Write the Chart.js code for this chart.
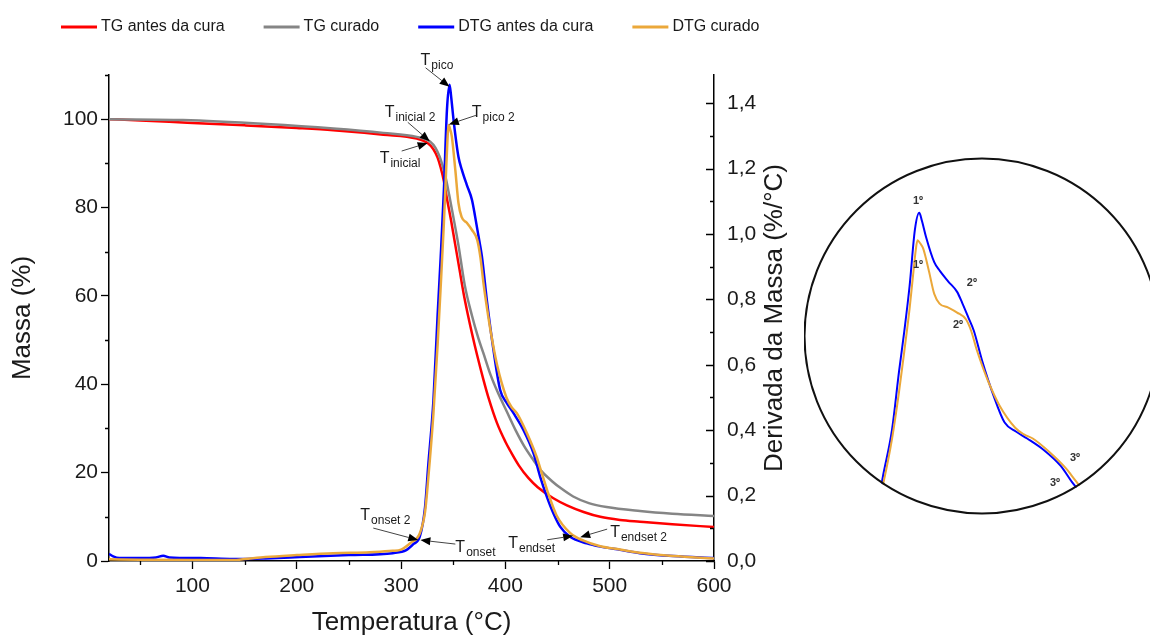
<!DOCTYPE html>
<html>
<head>
<meta charset="utf-8">
<script src="https://cdn.jsdelivr.net/npm/chart.js@4.4.1/dist/chart.umd.min.js"></script>
<style>
  html, body { margin: 0; padding: 0; background: #fff; overflow: hidden; width: 1150px; height: 637px; }
  #main { position: absolute; left: 0; top: 0; }
  #zoom { position: absolute; left: 804px; top: 157px; }
</style>
</head>
<body>
<canvas id="main" width="824" height="637"></canvas>
<canvas id="zoom" width="346" height="358"></canvas>
<script>
// TG (massa, %) antes da cura
const tgAntesTemp  = [20, 50, 95, 150, 200, 235, 283, 315, 326, 331, 335, 338, 341, 344, 348, 352, 356, 360, 364, 368, 373, 379, 384, 392, 400, 405, 413, 422, 431, 446, 459, 475, 491, 510, 529, 560, 600];
const tgAntesMassa = [100, 99.7, 99.2, 98.6, 98.0, 97.5, 96.5, 95.6, 94.5, 93.2, 91.3, 89, 86, 82, 77, 71.5, 66, 60.5, 55.8, 51.5, 46.5, 41, 36.8, 31.2, 27, 24.8, 21.6, 18.8, 16.7, 14.2, 12.6, 11.1, 10.0, 9.3, 8.9, 8.3, 7.7];

// TG (massa, %) curado
const tgCuradoTemp  = [20, 91, 171, 235, 283, 315, 328, 333, 337, 340, 343, 346, 350, 355, 361, 368, 374, 379, 386, 393, 401, 410, 418, 427, 434, 445, 453, 465, 480, 497, 529, 560, 600];
const tgCuradoMassa = [100, 99.8, 98.9, 97.9, 96.9, 96.0, 94.9, 93.5, 91.5, 89.3, 86.5, 83, 78, 71.5, 62.5, 55.5, 50.5, 47, 42, 38, 34, 29.5, 26, 22.8, 20.5, 18, 16.5, 14.6, 13.1, 12.2, 11.3, 10.7, 10.2];

// DTG (%/°C) antes da cura
const dtgAntesTemp  = [20, 24, 30, 50, 65, 72, 78, 108, 139, 170, 203, 250, 292, 305, 312, 318, 323, 326, 331, 335, 338, 341, 344, 346.5, 348, 350.3, 355, 358.3, 363, 368, 371, 374.3, 377.5, 382.3, 388.6, 395, 401.4, 407.8, 417.4, 427, 433.3, 439.7, 446, 452.5, 462, 478, 491, 510, 529, 561, 600];
const dtgAntesDeriv = [0.022, 0.014, 0.009, 0.009, 0.011, 0.016, 0.011, 0.009, 0.006, 0.008, 0.012, 0.018, 0.024, 0.033, 0.052, 0.075, 0.165, 0.29, 0.49, 0.75, 0.93, 1.13, 1.38, 1.456, 1.42, 1.349, 1.236, 1.196, 1.150, 1.104, 1.053, 0.992, 0.931, 0.795, 0.645, 0.523, 0.483, 0.452, 0.40, 0.329, 0.258, 0.197, 0.146, 0.105, 0.074, 0.054, 0.044, 0.034, 0.024, 0.015, 0.009];

// DTG (%/°C) curado
const dtgCuradoTemp  = [20, 50, 100, 139, 150, 170, 200, 235, 270, 292, 300, 309, 318, 323, 326, 331, 335, 338, 341, 343, 344.5, 345.5, 347, 348.7, 352, 355, 358, 363, 368, 373, 376, 379, 382.3, 386, 392, 401, 406, 411, 420.6, 430, 433.3, 440, 449, 462, 475, 491, 510, 529, 561, 600];
const dtgCuradoDeriv = [0.005, 0.004, 0.003, 0.003, 0.006, 0.012, 0.018, 0.024, 0.027, 0.031, 0.035, 0.055, 0.085, 0.15, 0.25, 0.45, 0.66, 0.84, 1.03, 1.18, 1.29, 1.333, 1.32, 1.297, 1.196, 1.095, 1.052, 1.034, 1.012, 0.982, 0.930, 0.850, 0.775, 0.70, 0.60, 0.50, 0.47, 0.452, 0.391, 0.318, 0.285, 0.217, 0.14, 0.086, 0.062, 0.045, 0.035, 0.025, 0.015, 0.008];

// Axis ticks
const tempTicks       = [100, 200, 300, 400, 500, 600];
const tempMinorTicks  = [50, 150, 250, 350, 450, 550];
const massaTicks      = [0, 20, 40, 60, 80, 100];
const massaMinorTicks = [10, 30, 50, 70, 90, 110];
const derivTicks      = [0, 0.2, 0.4, 0.6, 0.8, 1.0, 1.2, 1.4];
const derivMinorTicks = [0.1, 0.3, 0.5, 0.7, 0.9, 1.1, 1.3];

const FONT = '"Liberation Sans", Arial, sans-serif';
const INK = '#1a1a1a';
const COLORS = { red: '#ff0000', grey: '#858585', blue: '#0000ff', orange: '#eba83a' };

Chart.defaults.font.family = FONT;
Chart.defaults.color = INK;

const toPoints = (xs, ys) => xs.map((x, i) => ({ x, y: ys[i] }));

// Arrow annotations: tip in data units, tail and text offsets in px from the tip
const markers = [
  { sub: 'pico',      at: [346.5, 1.45],  axis: 'y1', tail: [-24, -19], text: [-29, -22] },
  { sub: 'pico 2',    at: [345.8, 1.335], axis: 'y1', tail: [27, -9],   text: [23, -7] },
  { sub: 'inicial 2', at: [327.5, 95.0],  axis: 'y',  tail: [-22, -19], text: [-45, -24] },
  { sub: 'inicial',   at: [325.5, 94.6],  axis: 'y',  tail: [-26, 8],   text: [-48, 20] },
  { sub: 'onset 2',   at: [316.5, 0.064], axis: 'y1', tail: [-45, -12], text: [-58, -20] },
  { sub: 'onset',     at: [318.5, 0.064], axis: 'y1', tail: [35, 4],    text: [35, 12] },
  { sub: 'endset',    at: [465.0, 0.077], axis: 'y1', tail: [-26, 4],   text: [-65, 12] },
  { sub: 'endset 2',  at: [471.7, 0.073], axis: 'y1', tail: [27, -8],   text: [30, 0] }
];

function arrow(ctx, x0, y0, x1, y1) {
  const ang = Math.atan2(y1 - y0, x1 - x0);
  const len = 10, half = 4;
  const bx = x1 - Math.cos(ang) * len, by = y1 - Math.sin(ang) * len;
  ctx.strokeStyle = '#444';
  ctx.lineWidth = 1;
  ctx.beginPath();
  ctx.moveTo(x0, y0);
  ctx.lineTo(bx, by);
  ctx.stroke();
  ctx.fillStyle = '#000';
  ctx.beginPath();
  ctx.moveTo(x1, y1);
  ctx.lineTo(bx + Math.sin(ang) * half, by - Math.cos(ang) * half);
  ctx.lineTo(bx - Math.sin(ang) * half, by + Math.cos(ang) * half);
  ctx.closePath();
  ctx.fill();
}

const decorations = {
  id: 'decorations',
  afterDraw(chart) {
    const { ctx, scales, chartArea } = chart;
    const { x, y, y1 } = scales;
    ctx.save();

    // minor ticks (outward) on bottom and left, all ticks inward on right
    ctx.strokeStyle = '#000';
    ctx.lineWidth = 1.3;
    ctx.beginPath();
    tempMinorTicks.forEach(v => {
      const px = Math.round(x.getPixelForValue(v)) + 0.5;
      ctx.moveTo(px, chartArea.bottom); ctx.lineTo(px, chartArea.bottom + 4);
    });
    massaMinorTicks.forEach(v => {
      const py = Math.round(y.getPixelForValue(v)) + 0.5;
      ctx.moveTo(chartArea.left - 4, py); ctx.lineTo(chartArea.left, py);
    });
    derivTicks.forEach(v => {
      const py = Math.round(y1.getPixelForValue(v)) + 0.5;
      ctx.moveTo(chartArea.right - 8, py); ctx.lineTo(chartArea.right, py);
    });
    derivMinorTicks.forEach(v => {
      const py = Math.round(y1.getPixelForValue(v)) + 0.5;
      ctx.moveTo(chartArea.right - 4, py); ctx.lineTo(chartArea.right, py);
    });
    ctx.stroke();

    // right axis title, reading bottom to top
    ctx.save();
    ctx.translate(775, (chartArea.top + chartArea.bottom) / 2);
    ctx.rotate(-Math.PI / 2);
    ctx.font = '26px ' + FONT;
    ctx.fillStyle = INK;
    ctx.textAlign = 'center';
    ctx.textBaseline = 'middle';
    ctx.fillText('Derivada da Massa (%/°C)', 0, 0);
    ctx.restore();

    // legend
    ctx.font = '16px ' + FONT;
    ctx.textBaseline = 'middle';
    ctx.textAlign = 'left';
    let lx = 61;
    const ly = 27;
    chart.data.datasets.forEach(ds => {
      ctx.strokeStyle = ds.borderColor;
      ctx.lineWidth = 3;
      ctx.beginPath();
      ctx.moveTo(lx, ly); ctx.lineTo(lx + 36, ly);
      ctx.stroke();
      ctx.fillStyle = INK;
      ctx.fillText(ds.label, lx + 40, ly);
      lx += 40 + ctx.measureText(ds.label).width + 39;
    });

    // T markers with arrows
    markers.forEach(m => {
      const tx = x.getPixelForValue(m.at[0]);
      const ty = scales[m.axis].getPixelForValue(m.at[1]);
      arrow(ctx, tx + m.tail[0], ty + m.tail[1], tx, ty);
      const bx = tx + m.text[0], by = ty + m.text[1];
      ctx.fillStyle = INK;
      ctx.textBaseline = 'alphabetic';
      ctx.font = '16px ' + FONT;
      ctx.fillText('T', bx, by);
      const w = ctx.measureText('T').width;
      ctx.font = '12px ' + FONT;
      ctx.fillText(m.sub, bx + w + 1, by + 4);
    });
    ctx.restore();
  }
};

const lineStyle = { borderWidth: 2.5, pointRadius: 0, cubicInterpolationMode: 'monotone', fill: false };

new Chart(document.getElementById('main'), {
  type: 'line',
  data: {
    datasets: [
      { ...lineStyle, label: 'TG antes da cura',  data: toPoints(tgAntesTemp, tgAntesMassa),   yAxisID: 'y',  borderColor: COLORS.red,    order: 3 },
      { ...lineStyle, label: 'TG curado',         data: toPoints(tgCuradoTemp, tgCuradoMassa), yAxisID: 'y',  borderColor: COLORS.grey,   order: 2 },
      { ...lineStyle, label: 'DTG antes da cura', data: toPoints(dtgAntesTemp, dtgAntesDeriv), yAxisID: 'y1', borderColor: COLORS.blue,   order: 1 },
      { ...lineStyle, label: 'DTG curado',        data: toPoints(dtgCuradoTemp, dtgCuradoDeriv), yAxisID: 'y1', borderColor: COLORS.orange, order: 0 }
    ]
  },
  options: {
    responsive: false,
    animation: false,
    layout: { padding: { top: 75, left: 0, right: 0, bottom: 0 } },
    plugins: { legend: { display: false }, tooltip: { enabled: false } },
    scales: {
      x: {
        type: 'linear', min: 20, max: 600,
        afterBuildTicks: s => { s.ticks = tempTicks.map(v => ({ value: v })); },
        afterFit: s => { s.height = 76; },
        ticks: { font: { size: 21 }, color: INK, padding: 5, maxRotation: 0, autoSkip: false },
        grid: { drawOnChartArea: false, drawTicks: true, tickLength: 8, tickColor: '#000', tickWidth: 1.3 },
        border: { display: true, color: '#000', width: 1.5 },
        title: { display: true, text: 'Temperatura (°C)', font: { size: 26 }, color: INK, padding: { top: 0, bottom: -1 } }
      },
      y: {
        position: 'left', min: 0, max: 110,
        afterBuildTicks: s => { s.ticks = massaTicks.map(v => ({ value: v })); },
        afterFit: s => { s.width = 109; },
        ticks: { font: { size: 21 }, color: INK, padding: 3 },
        grid: { drawOnChartArea: false, drawTicks: true, tickLength: 8, tickColor: '#000', tickWidth: 1.3 },
        border: { display: true, color: '#000', width: 1.5 },
        title: { display: true, text: 'Massa (%)', font: { size: 26 }, color: INK, padding: { top: 7, bottom: 0 } }
      },
      y1: {
        position: 'right', min: 0, max: 1.486,
        afterBuildTicks: s => { s.ticks = derivTicks.map(v => ({ value: v })); },
        afterFit: s => { s.width = 110; },
        ticks: { font: { size: 21 }, color: INK, padding: 13, callback: v => v.toFixed(1).replace('.', ',') },
        grid: { drawOnChartArea: false, drawTicks: false },
        border: { display: true, color: '#000', width: 1.5 }
      }
    }
  },
  plugins: [decorations]
});

// Detail view of the DTG peaks inside a circle
const zoomLabels = [
  { text: '1º', at: [345.8, 1.508] },
  { text: '1º', at: [345.8, 1.224] },
  { text: '2º', at: [376.4, 1.144] },
  { text: '2º', at: [368.5, 0.957] },
  { text: '3º', at: [435.0, 0.366] },
  { text: '3º', at: [423.6, 0.255] }
];
const circle = { cx: 178, cy: 179, r: 178.5 };

const circleClip = {
  id: 'circleClip',
  beforeDatasetsDraw(chart) {
    const ctx = chart.ctx;
    ctx.save();
    ctx.beginPath();
    ctx.arc(circle.cx, circle.cy, circle.r, 0, Math.PI * 2);
    ctx.clip();
  },
  afterDatasetsDraw(chart) {
    chart.ctx.restore();
  },
  afterDraw(chart) {
    const { ctx, scales: { x, y } } = chart;
    ctx.save();
    ctx.strokeStyle = '#111';
    ctx.lineWidth = 2;
    ctx.beginPath();
    ctx.arc(circle.cx, circle.cy, circle.r - 1, 0, Math.PI * 2);
    ctx.stroke();
    ctx.font = 'bold 11px ' + FONT;
    ctx.fillStyle = '#333';
    ctx.textAlign = 'center';
    ctx.textBaseline = 'middle';
    zoomLabels.forEach(l => ctx.fillText(l.text, x.getPixelForValue(l.at[0]), y.getPixelForValue(l.at[1])));
    ctx.restore();
  }
};

const zoomLine = { borderWidth: 2, pointRadius: 0, cubicInterpolationMode: 'monotone', fill: false };

new Chart(document.getElementById('zoom'), {
  type: 'line',
  data: {
    datasets: [
      { ...zoomLine, label: 'DTG antes da cura', data: toPoints(dtgAntesTemp, dtgAntesDeriv), borderColor: COLORS.blue, order: 1 },
      { ...zoomLine, label: 'DTG curado', data: toPoints(dtgCuradoTemp, dtgCuradoDeriv), borderColor: COLORS.orange, order: 0 }
    ]
  },
  options: {
    responsive: false,
    animation: false,
    layout: { padding: 0 },
    plugins: { legend: { display: false }, tooltip: { enabled: false } },
    scales: {
      x: { type: 'linear', min: 281, max: 477.6, display: false },
      y: { min: 0.112, max: 1.7036, display: false }
    }
  },
  plugins: [circleClip]
});
</script>
</body>
</html>
